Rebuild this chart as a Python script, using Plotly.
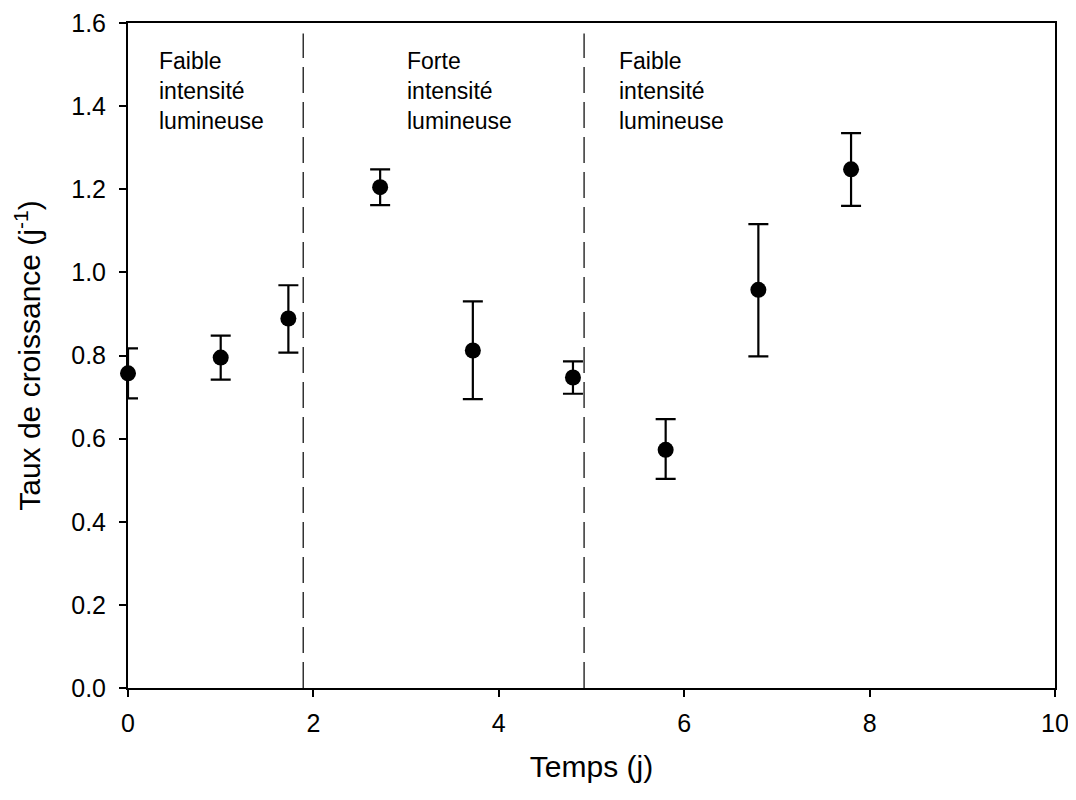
import plotly.graph_objects as go

# Mesures (jour, taux de croissance, erreur haute, erreur basse)
temps = [0.0, 1.0, 1.73, 2.72, 3.72, 4.80, 5.80, 6.80, 7.80]
taux = [0.757, 0.795, 0.889, 1.205, 0.812, 0.747, 0.573, 0.958, 1.248]
err_haut = [0.060, 0.053, 0.080, 0.043, 0.118, 0.039, 0.074, 0.158, 0.087]
err_bas = [0.060, 0.053, 0.082, 0.043, 0.117, 0.039, 0.070, 0.160, 0.088]

# Changements d'intensité lumineuse
limites = [1.89, 4.92]
periodes = ["Faible<br>intensité<br>lumineuse",
            "Forte<br>intensité<br>lumineuse",
            "Faible<br>intensité<br>lumineuse"]
debut_periodes = [0.31, 2.99, 5.27]

police = 'Liberation Sans, Arial'

fig = go.Figure()

fig.add_trace(go.Scatter(
    x=temps, y=taux,
    mode='markers',
    marker=dict(size=16, color='black'),
    error_y=dict(type='data', symmetric=False, array=err_haut, arrayminus=err_bas,
                 color='black', thickness=2.2, width=10),
    showlegend=False,
    cliponaxis=False,
))

for xl in limites:
    fig.add_shape(type='line', x0=xl, x1=xl, y0=0, y1=1.575, xref='x', yref='y',
                  line=dict(color='black', width=1.2, dash='26px,9px'))

for txt, x0 in zip(periodes, debut_periodes):
    fig.add_annotation(x=x0, y=1.545, xref='x', yref='y', text=txt, showarrow=False,
                       xanchor='left', yanchor='top', align='left',
                       font=dict(size=23, color='black', family=police))

# titre de l'axe y placé à la main (plus à gauche que ne le permet standoff)
fig.add_annotation(x=-0.086, y=0.5, xref='paper', yref='paper',
                   text='Taux de croissance (j<sup>-1</sup>)', showarrow=False,
                   textangle=-90, xanchor='right', yanchor='middle',
                   font=dict(size=30, color='black', family=police))

axe = dict(showline=True, linecolor='black', linewidth=2, mirror=True,
           ticks='outside', ticklen=7, tickwidth=2, tickcolor='black',
           showgrid=False, zeroline=False, automargin=False,
           ticklabeloverflow='allow',
           tickfont=dict(size=25, color='black', family=police))

fig.update_layout(
    width=1060, height=784,
    margin=dict(l=120, r=13, t=15, b=104),
    plot_bgcolor='white', paper_bgcolor='white',
    xaxis=dict(range=[0, 10], tickvals=[0, 2, 4, 6, 8, 10], ticklabelstandoff=5,
               title=dict(text='Temps (j)', standoff=20,
                          font=dict(size=30, color='black', family=police)),
               **axe),
    yaxis=dict(range=[0, 1.6], dtick=0.2, tickformat='.1f', ticklabelstandoff=8,
               **axe),
)

fig.write_html("out.html")
